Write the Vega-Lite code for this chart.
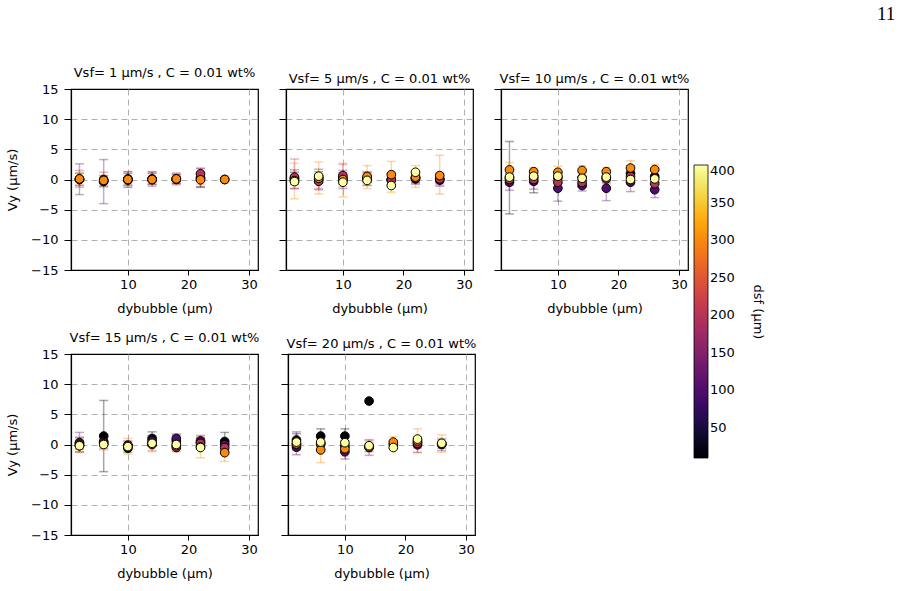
{
  "$schema": "https://vega.github.io/schema/vega-lite/v6.json",
  "background": "white",
  "padding": {"left": 5, "top": 5, "right": 130, "bottom": 5},
  "title": {"text": "11", "anchor": "start", "frame": "bounds", "font": "Liberation Serif", "fontSize": 19, "fontWeight": "normal", "color": "black", "dx": 871, "offset": 42},
  "datasets": {
    "pts": [
      {"p":1,"x":2,"d":10,"vy":0.0,"lo":-1.0,"hi":1.0},{"p":1,"x":2,"d":100,"vy":0.0,"lo":-2.5,"hi":2.6},{"p":1,"x":2,"d":200,"vy":0.1,"lo":-1.3,"hi":1.5},{"p":1,"x":2,"d":300,"vy":0.1,"lo":-0.9,"hi":1.2},
      {"p":1,"x":6,"d":10,"vy":-0.3,"lo":-1.2,"hi":0.6},{"p":1,"x":6,"d":100,"vy":-0.3,"lo":-4.0,"hi":3.3},{"p":1,"x":6,"d":200,"vy":0.0,"lo":-1.0,"hi":1.2},{"p":1,"x":6,"d":300,"vy":-0.15,"lo":-0.9,"hi":0.7},
      {"p":1,"x":10,"d":10,"vy":-0.1,"lo":-1.3,"hi":1.0},{"p":1,"x":10,"d":100,"vy":0.0,"lo":-1.0,"hi":1.3},{"p":1,"x":10,"d":200,"vy":0.1,"lo":-0.9,"hi":1.3},{"p":1,"x":10,"d":300,"vy":0.0,"lo":-0.7,"hi":0.7},
      {"p":1,"x":14,"d":10,"vy":0.1,"lo":-0.8,"hi":1.0},{"p":1,"x":14,"d":100,"vy":0.0,"lo":-1.1,"hi":1.3},{"p":1,"x":14,"d":200,"vy":0.0,"lo":-0.8,"hi":1.2},{"p":1,"x":14,"d":300,"vy":0.0,"lo":-0.6,"hi":0.6},
      {"p":1,"x":18,"d":10,"vy":0.0,"lo":-0.7,"hi":0.8},{"p":1,"x":18,"d":100,"vy":0.1,"lo":-0.6,"hi":0.9},{"p":1,"x":18,"d":200,"vy":0.1,"lo":-0.9,"hi":1.1},{"p":1,"x":18,"d":300,"vy":0.1,"lo":-0.5,"hi":0.6},
      {"p":1,"x":22,"d":10,"vy":0.1,"lo":-1.3,"hi":1.0},{"p":1,"x":22,"d":100,"vy":0.3,"lo":-1.2,"hi":1.8},{"p":1,"x":22,"d":200,"vy":0.95,"lo":0.0,"hi":1.9},{"p":1,"x":22,"d":300,"vy":-0.05,"lo":-0.8,"hi":0.7},
      {"p":1,"x":26,"d":10,"vy":0.0,"lo":-0.3,"hi":0.3},{"p":1,"x":26,"d":300,"vy":0.0,"lo":-0.6,"hi":0.6},

      {"p":2,"x":2,"d":10,"vy":0.2,"lo":-0.8,"hi":1.2},{"p":2,"x":2,"d":100,"vy":0.1,"lo":-1.5,"hi":1.6},{"p":2,"x":2,"d":200,"vy":0.4,"lo":-1.5,"hi":3.4},{"p":2,"x":2,"d":300,"vy":-0.2,"lo":-3.2,"hi":2.7},{"p":2,"x":2,"d":400,"vy":-0.35,"lo":-1.2,"hi":0.5},
      {"p":2,"x":6,"d":10,"vy":0.4,"lo":-0.6,"hi":1.3},{"p":2,"x":6,"d":100,"vy":0.0,"lo":-1.7,"hi":1.7},{"p":2,"x":6,"d":200,"vy":-0.3,"lo":-1.5,"hi":0.9},{"p":2,"x":6,"d":300,"vy":0.2,"lo":-2.4,"hi":2.9},{"p":2,"x":6,"d":400,"vy":0.55,"lo":-0.4,"hi":1.5},
      {"p":2,"x":10,"d":10,"vy":0.2,"lo":-0.7,"hi":1.1},{"p":2,"x":10,"d":100,"vy":0.0,"lo":-1.5,"hi":1.5},{"p":2,"x":10,"d":200,"vy":0.65,"lo":-1.2,"hi":2.5},{"p":2,"x":10,"d":300,"vy":0.0,"lo":-2.9,"hi":2.7},{"p":2,"x":10,"d":400,"vy":-0.45,"lo":-1.2,"hi":0.3},
      {"p":2,"x":14,"d":10,"vy":0.3,"lo":-0.5,"hi":1.0},{"p":2,"x":14,"d":100,"vy":0.0,"lo":-1.0,"hi":1.2},{"p":2,"x":14,"d":200,"vy":0.2,"lo":-0.9,"hi":1.3},{"p":2,"x":14,"d":300,"vy":0.5,"lo":-1.5,"hi":2.3},{"p":2,"x":14,"d":400,"vy":-0.15,"lo":-0.8,"hi":0.5},
      {"p":2,"x":18,"d":10,"vy":0.0,"lo":-0.8,"hi":0.8},{"p":2,"x":18,"d":100,"vy":-0.1,"lo":-1.0,"hi":0.9},{"p":2,"x":18,"d":200,"vy":-0.05,"lo":-1.0,"hi":1.0},{"p":2,"x":18,"d":300,"vy":0.8,"lo":-2.1,"hi":3.0},{"p":2,"x":18,"d":400,"vy":-1.0,"lo":-2.4,"hi":0.4},
      {"p":2,"x":22,"d":10,"vy":0.1,"lo":-0.5,"hi":0.7},{"p":2,"x":22,"d":100,"vy":0.2,"lo":-0.8,"hi":1.1},{"p":2,"x":22,"d":200,"vy":0.3,"lo":-0.6,"hi":1.2},{"p":2,"x":22,"d":300,"vy":0.4,"lo":-1.3,"hi":2.3},{"p":2,"x":22,"d":400,"vy":1.2,"lo":0.3,"hi":2.1},
      {"p":2,"x":26,"d":10,"vy":0.0,"lo":-0.6,"hi":0.6},{"p":2,"x":26,"d":100,"vy":-0.1,"lo":-1.1,"hi":0.9},{"p":2,"x":26,"d":200,"vy":0.1,"lo":-0.9,"hi":1.1},{"p":2,"x":26,"d":300,"vy":0.65,"lo":-2.4,"hi":4.0},

      {"p":3,"x":2,"d":10,"vy":0.3,"lo":-5.7,"hi":6.3},{"p":3,"x":2,"d":100,"vy":-0.45,"lo":-1.8,"hi":0.9},{"p":3,"x":2,"d":200,"vy":0.0,"lo":-1.0,"hi":1.0},{"p":3,"x":2,"d":300,"vy":1.6,"lo":0.4,"hi":2.8},{"p":3,"x":2,"d":400,"vy":0.4,"lo":-0.5,"hi":1.3},
      {"p":3,"x":6,"d":10,"vy":0.4,"lo":-2.2,"hi":1.2},{"p":3,"x":6,"d":100,"vy":-0.3,"lo":-1.6,"hi":1.0},{"p":3,"x":6,"d":200,"vy":0.0,"lo":-0.8,"hi":0.8},{"p":3,"x":6,"d":300,"vy":1.3,"lo":0.7,"hi":1.9},{"p":3,"x":6,"d":400,"vy":0.55,"lo":-0.3,"hi":1.4},
      {"p":3,"x":10,"d":10,"vy":0.3,"lo":-0.6,"hi":1.2},{"p":3,"x":10,"d":100,"vy":-1.45,"lo":-3.6,"hi":0.7},{"p":3,"x":10,"d":200,"vy":-0.45,"lo":-1.4,"hi":0.5},{"p":3,"x":10,"d":300,"vy":1.2,"lo":0.2,"hi":2.2},{"p":3,"x":10,"d":400,"vy":0.55,"lo":-0.4,"hi":1.5},
      {"p":3,"x":14,"d":10,"vy":0.3,"lo":-0.5,"hi":1.1},{"p":3,"x":14,"d":100,"vy":-1.0,"lo":-1.9,"hi":-0.1},{"p":3,"x":14,"d":200,"vy":-0.5,"lo":-1.3,"hi":0.3},{"p":3,"x":14,"d":300,"vy":1.5,"lo":0.7,"hi":2.3},{"p":3,"x":14,"d":400,"vy":0.2,"lo":-0.6,"hi":1.0},
      {"p":3,"x":18,"d":10,"vy":0.3,"lo":-0.5,"hi":1.1},{"p":3,"x":18,"d":100,"vy":-1.45,"lo":-3.5,"hi":0.6},{"p":3,"x":18,"d":200,"vy":0.1,"lo":-0.7,"hi":0.9},{"p":3,"x":18,"d":300,"vy":1.3,"lo":0.6,"hi":2.0},{"p":3,"x":18,"d":400,"vy":0.4,"lo":-0.4,"hi":1.2},
      {"p":3,"x":22,"d":10,"vy":1.0,"lo":-0.3,"hi":2.3},{"p":3,"x":22,"d":100,"vy":-0.45,"lo":-2.0,"hi":1.1},{"p":3,"x":22,"d":200,"vy":0.5,"lo":-0.5,"hi":1.5},{"p":3,"x":22,"d":300,"vy":1.9,"lo":0.7,"hi":3.1},{"p":3,"x":22,"d":400,"vy":0.0,"lo":-1.0,"hi":1.0},
      {"p":3,"x":26,"d":10,"vy":0.5,"lo":-0.5,"hi":1.5},{"p":3,"x":26,"d":100,"vy":-1.7,"lo":-3.0,"hi":-0.4},{"p":3,"x":26,"d":200,"vy":-0.7,"lo":-1.6,"hi":0.2},{"p":3,"x":26,"d":300,"vy":1.65,"lo":0.8,"hi":2.5},{"p":3,"x":26,"d":400,"vy":0.1,"lo":-0.8,"hi":1.0},

      {"p":4,"x":2,"d":10,"vy":0.2,"lo":-0.8,"hi":1.2},{"p":4,"x":2,"d":100,"vy":0.3,"lo":-1.2,"hi":2.0},{"p":4,"x":2,"d":200,"vy":-0.2,"lo":-1.3,"hi":0.9},{"p":4,"x":2,"d":300,"vy":-0.1,"lo":-1.3,"hi":1.1},{"p":4,"x":2,"d":400,"vy":-0.2,"lo":-0.9,"hi":0.5},
      {"p":4,"x":6,"d":10,"vy":1.4,"lo":-4.5,"hi":7.3},{"p":4,"x":6,"d":100,"vy":0.5,"lo":-0.6,"hi":1.6},{"p":4,"x":6,"d":200,"vy":0.3,"lo":-0.8,"hi":1.4},{"p":4,"x":6,"d":300,"vy":0.1,"lo":-0.9,"hi":1.1},{"p":4,"x":6,"d":400,"vy":0.0,"lo":-0.8,"hi":0.8},
      {"p":4,"x":10,"d":10,"vy":-0.6,"lo":-1.3,"hi":0.1},{"p":4,"x":10,"d":100,"vy":-0.2,"lo":-0.9,"hi":0.5},{"p":4,"x":10,"d":200,"vy":-0.1,"lo":-0.8,"hi":0.6},{"p":4,"x":10,"d":300,"vy":-0.3,"lo":-1.6,"hi":1.0},{"p":4,"x":10,"d":400,"vy":-0.35,"lo":-1.0,"hi":0.3},
      {"p":4,"x":14,"d":10,"vy":1.0,"lo":-0.1,"hi":2.1},{"p":4,"x":14,"d":100,"vy":0.6,"lo":-0.3,"hi":1.5},{"p":4,"x":14,"d":200,"vy":0.1,"lo":-1.0,"hi":1.2},{"p":4,"x":14,"d":300,"vy":0.0,"lo":-1.2,"hi":1.2},{"p":4,"x":14,"d":400,"vy":0.2,"lo":-0.5,"hi":0.9},
      {"p":4,"x":18,"d":10,"vy":0.6,"lo":-0.3,"hi":1.5},{"p":4,"x":18,"d":100,"vy":1.0,"lo":0.25,"hi":1.75},{"p":4,"x":18,"d":200,"vy":-0.5,"lo":-1.2,"hi":0.2},{"p":4,"x":18,"d":300,"vy":-0.2,"lo":-1.0,"hi":0.6},{"p":4,"x":18,"d":400,"vy":0.0,"lo":-0.7,"hi":0.7},
      {"p":4,"x":22,"d":10,"vy":0.3,"lo":-0.5,"hi":1.1},{"p":4,"x":22,"d":100,"vy":0.6,"lo":-0.3,"hi":1.5},{"p":4,"x":22,"d":200,"vy":0.2,"lo":-0.6,"hi":1.0},{"p":4,"x":22,"d":300,"vy":-0.4,"lo":-2.2,"hi":1.3},{"p":4,"x":22,"d":400,"vy":-0.5,"lo":-1.3,"hi":0.3},
      {"p":4,"x":26,"d":10,"vy":0.5,"lo":-1.0,"hi":2.0},{"p":4,"x":26,"d":100,"vy":0.0,"lo":-0.8,"hi":0.8},{"p":4,"x":26,"d":200,"vy":-0.5,"lo":-1.3,"hi":0.3},{"p":4,"x":26,"d":300,"vy":-1.35,"lo":-2.8,"hi":0.1},

      {"p":5,"x":2,"d":10,"vy":0.75,"lo":-0.3,"hi":1.8},{"p":5,"x":2,"d":100,"vy":-0.45,"lo":-1.7,"hi":2.1},{"p":5,"x":2,"d":200,"vy":0.0,"lo":-0.9,"hi":0.9},{"p":5,"x":2,"d":300,"vy":0.1,"lo":-0.8,"hi":1.0},{"p":5,"x":2,"d":400,"vy":0.4,"lo":-0.5,"hi":1.3},
      {"p":5,"x":6,"d":10,"vy":1.4,"lo":0.2,"hi":2.6},{"p":5,"x":6,"d":100,"vy":0.2,"lo":-0.8,"hi":1.2},{"p":5,"x":6,"d":200,"vy":0.0,"lo":-1.0,"hi":1.0},{"p":5,"x":6,"d":300,"vy":-0.9,"lo":-3.0,"hi":1.2},{"p":5,"x":6,"d":400,"vy":0.4,"lo":-0.5,"hi":1.3},
      {"p":5,"x":10,"d":10,"vy":1.4,"lo":0.2,"hi":2.6},{"p":5,"x":10,"d":100,"vy":-1.2,"lo":-2.4,"hi":0.0},{"p":5,"x":10,"d":200,"vy":-0.3,"lo":-1.2,"hi":0.6},{"p":5,"x":10,"d":300,"vy":-0.7,"lo":-1.9,"hi":0.5},{"p":5,"x":10,"d":400,"vy":0.3,"lo":-0.6,"hi":1.2},
      {"p":5,"x":14,"d":10,"vy":7.2,"lo":null,"hi":null},{"p":5,"x":14,"d":100,"vy":-0.5,"lo":-1.8,"hi":0.8},{"p":5,"x":14,"d":200,"vy":-0.3,"lo":-1.2,"hi":0.6},{"p":5,"x":14,"d":300,"vy":-0.4,"lo":-1.1,"hi":0.3},{"p":5,"x":14,"d":400,"vy":-0.2,"lo":-0.9,"hi":0.5},
      {"p":5,"x":18,"d":100,"vy":0.0,"lo":-0.6,"hi":0.6},{"p":5,"x":18,"d":300,"vy":0.4,"lo":-0.5,"hi":1.3},{"p":5,"x":18,"d":400,"vy":-0.5,"lo":-1.7,"hi":0.7},
      {"p":5,"x":22,"d":10,"vy":0.4,"lo":-0.3,"hi":1.1},{"p":5,"x":22,"d":100,"vy":-0.05,"lo":-1.3,"hi":1.2},{"p":5,"x":22,"d":200,"vy":0.2,"lo":-0.6,"hi":1.0},{"p":5,"x":22,"d":300,"vy":0.6,"lo":-1.4,"hi":2.6},{"p":5,"x":22,"d":400,"vy":0.9,"lo":0.1,"hi":1.7},
      {"p":5,"x":26,"d":10,"vy":0.1,"lo":-0.6,"hi":0.8},{"p":5,"x":26,"d":100,"vy":0.0,"lo":-1.0,"hi":1.0},{"p":5,"x":26,"d":300,"vy":0.1,"lo":-1.3,"hi":1.6},{"p":5,"x":26,"d":400,"vy":0.2,"lo":-0.5,"hi":0.9}
    ]
  },
  "vconcat": [
    {
      "spacing": 18,
      "hconcat": [
        {
          "width": 187, "height": 181,
          "title": "Vsf= 1 µm/s , C = 0.01 wt%",
          "data": {"name": "pts"},
          "transform": [{"filter": "datum.p == 1"}],
          "encoding": {
            "x": {"field": "x", "type": "quantitative", "scale": {"domain": [0.6, 31.5], "nice": false, "zero": false}, "axis": {"values": [10, 20, 30], "title": "dybubble (µm)"}},
            "order": {"field": "d", "type": "quantitative"}
          },
          "layer": [
            {"mark": {"type": "rule", "opacity": 0.35, "strokeWidth": 1.5}, "encoding": {"y": {"field": "lo", "type": "quantitative", "scale": {"domain": [-15, 15], "nice": false}, "axis": {"values": [-15, -10, -5, 0, 5, 10, 15], "tickCount": 10, "title": "Vy (µm/s)"}}, "y2": {"field": "hi"}, "stroke": {"field": "d", "type": "quantitative", "scale": {"scheme": "inferno", "domain": [9.999, 400.001]}, "legend": null}}},
            {"mark": {"type": "tick", "orient": "horizontal", "size": 9, "thickness": 1.5, "opacity": 0.35}, "encoding": {"y": {"field": "lo", "type": "quantitative"}, "fill": {"field": "d", "type": "quantitative", "scale": {"scheme": "inferno", "domain": [9.998, 400.002]}, "legend": null}}},
            {"mark": {"type": "tick", "orient": "horizontal", "size": 9, "thickness": 1.5, "opacity": 0.35}, "encoding": {"y": {"field": "hi", "type": "quantitative"}, "fill": {"field": "d", "type": "quantitative", "scale": {"scheme": "inferno", "domain": [9.998, 400.002]}, "legend": null}}},
            {"mark": {"type": "point", "shape": "circle", "filled": true, "size": 75, "stroke": "black", "strokeWidth": 1, "opacity": 1}, "encoding": {"y": {"field": "vy", "type": "quantitative"}, "color": {"field": "d", "type": "quantitative", "scale": {"scheme": "inferno", "domain": [10, 400]}, "title": "dsf (µm)", "legend": {"type": "gradient", "titleAngle": -90, "tickCount": 10}}}}
          ]
        },
        {
          "width": 187, "height": 181,
          "title": "Vsf= 5 µm/s , C = 0.01 wt%",
          "data": {"name": "pts"},
          "transform": [{"filter": "datum.p == 2"}],
          "encoding": {
            "x": {"field": "x", "type": "quantitative", "scale": {"domain": [0.6, 31.5], "nice": false, "zero": false}, "axis": {"values": [10, 20, 30], "title": "dybubble (µm)"}},
            "order": {"field": "d", "type": "quantitative"}
          },
          "layer": [
            {"mark": {"type": "rule", "opacity": 0.35, "strokeWidth": 1.5}, "encoding": {"y": {"field": "lo", "type": "quantitative", "scale": {"domain": [-15, 15], "nice": false}, "axis": {"values": [-15, -10, -5, 0, 5, 10, 15], "tickCount": 10, "labels": false, "title": null}}, "y2": {"field": "hi"}, "stroke": {"field": "d", "type": "quantitative", "scale": {"scheme": "inferno", "domain": [9.999, 400.001]}, "legend": null}}},
            {"mark": {"type": "tick", "orient": "horizontal", "size": 9, "thickness": 1.5, "opacity": 0.35}, "encoding": {"y": {"field": "lo", "type": "quantitative"}, "fill": {"field": "d", "type": "quantitative", "scale": {"scheme": "inferno", "domain": [9.998, 400.002]}, "legend": null}}},
            {"mark": {"type": "tick", "orient": "horizontal", "size": 9, "thickness": 1.5, "opacity": 0.35}, "encoding": {"y": {"field": "hi", "type": "quantitative"}, "fill": {"field": "d", "type": "quantitative", "scale": {"scheme": "inferno", "domain": [9.998, 400.002]}, "legend": null}}},
            {"mark": {"type": "point", "shape": "circle", "filled": true, "size": 75, "stroke": "black", "strokeWidth": 1, "opacity": 1}, "encoding": {"y": {"field": "vy", "type": "quantitative"}, "color": {"field": "d", "type": "quantitative", "scale": {"scheme": "inferno", "domain": [10, 400]}, "title": "dsf (µm)", "legend": {"type": "gradient", "titleAngle": -90, "tickCount": 10}}}}
          ]
        },
        {
          "width": 187, "height": 181,
          "title": "Vsf= 10 µm/s , C = 0.01 wt%",
          "data": {"name": "pts"},
          "transform": [{"filter": "datum.p == 3"}],
          "encoding": {
            "x": {"field": "x", "type": "quantitative", "scale": {"domain": [0.6, 31.5], "nice": false, "zero": false}, "axis": {"values": [10, 20, 30], "title": "dybubble (µm)"}},
            "order": {"field": "d", "type": "quantitative"}
          },
          "layer": [
            {"mark": {"type": "rule", "opacity": 0.35, "strokeWidth": 1.5}, "encoding": {"y": {"field": "lo", "type": "quantitative", "scale": {"domain": [-15, 15], "nice": false}, "axis": {"values": [-15, -10, -5, 0, 5, 10, 15], "tickCount": 10, "labels": false, "title": null}}, "y2": {"field": "hi"}, "stroke": {"field": "d", "type": "quantitative", "scale": {"scheme": "inferno", "domain": [9.999, 400.001]}, "legend": null}}},
            {"mark": {"type": "tick", "orient": "horizontal", "size": 9, "thickness": 1.5, "opacity": 0.35}, "encoding": {"y": {"field": "lo", "type": "quantitative"}, "fill": {"field": "d", "type": "quantitative", "scale": {"scheme": "inferno", "domain": [9.998, 400.002]}, "legend": null}}},
            {"mark": {"type": "tick", "orient": "horizontal", "size": 9, "thickness": 1.5, "opacity": 0.35}, "encoding": {"y": {"field": "hi", "type": "quantitative"}, "fill": {"field": "d", "type": "quantitative", "scale": {"scheme": "inferno", "domain": [9.998, 400.002]}, "legend": null}}},
            {"mark": {"type": "point", "shape": "circle", "filled": true, "size": 75, "stroke": "black", "strokeWidth": 1, "opacity": 1}, "encoding": {"y": {"field": "vy", "type": "quantitative"}, "color": {"field": "d", "type": "quantitative", "scale": {"scheme": "inferno", "domain": [10, 400]}, "title": "dsf (µm)", "legend": {"type": "gradient", "titleAngle": -90, "tickCount": 10}}}}
          ]
        }
      ]
    },
    {
      "spacing": 18,
      "hconcat": [
        {
          "width": 187, "height": 181,
          "title": "Vsf= 15 µm/s , C = 0.01 wt%",
          "data": {"name": "pts"},
          "transform": [{"filter": "datum.p == 4"}],
          "encoding": {
            "x": {"field": "x", "type": "quantitative", "scale": {"domain": [0.6, 31.5], "nice": false, "zero": false}, "axis": {"values": [10, 20, 30], "title": "dybubble (µm)"}},
            "order": {"field": "d", "type": "quantitative"}
          },
          "layer": [
            {"mark": {"type": "rule", "opacity": 0.35, "strokeWidth": 1.5}, "encoding": {"y": {"field": "lo", "type": "quantitative", "scale": {"domain": [-15, 15], "nice": false}, "axis": {"values": [-15, -10, -5, 0, 5, 10, 15], "tickCount": 10, "title": "Vy (µm/s)"}}, "y2": {"field": "hi"}, "stroke": {"field": "d", "type": "quantitative", "scale": {"scheme": "inferno", "domain": [9.999, 400.001]}, "legend": null}}},
            {"mark": {"type": "tick", "orient": "horizontal", "size": 9, "thickness": 1.5, "opacity": 0.35}, "encoding": {"y": {"field": "lo", "type": "quantitative"}, "fill": {"field": "d", "type": "quantitative", "scale": {"scheme": "inferno", "domain": [9.998, 400.002]}, "legend": null}}},
            {"mark": {"type": "tick", "orient": "horizontal", "size": 9, "thickness": 1.5, "opacity": 0.35}, "encoding": {"y": {"field": "hi", "type": "quantitative"}, "fill": {"field": "d", "type": "quantitative", "scale": {"scheme": "inferno", "domain": [9.998, 400.002]}, "legend": null}}},
            {"mark": {"type": "point", "shape": "circle", "filled": true, "size": 75, "stroke": "black", "strokeWidth": 1, "opacity": 1}, "encoding": {"y": {"field": "vy", "type": "quantitative"}, "color": {"field": "d", "type": "quantitative", "scale": {"scheme": "inferno", "domain": [10, 400]}, "title": "dsf (µm)", "legend": {"type": "gradient", "titleAngle": -90, "tickCount": 10}}}}
          ]
        },
        {
          "width": 187, "height": 181,
          "title": "Vsf= 20 µm/s , C = 0.01 wt%",
          "data": {"name": "pts"},
          "transform": [{"filter": "datum.p == 5"}],
          "encoding": {
            "x": {"field": "x", "type": "quantitative", "scale": {"domain": [0.6, 31.5], "nice": false, "zero": false}, "axis": {"values": [10, 20, 30], "title": "dybubble (µm)"}},
            "order": {"field": "d", "type": "quantitative"}
          },
          "layer": [
            {"mark": {"type": "rule", "opacity": 0.35, "strokeWidth": 1.5}, "encoding": {"y": {"field": "lo", "type": "quantitative", "scale": {"domain": [-15, 15], "nice": false}, "axis": {"values": [-15, -10, -5, 0, 5, 10, 15], "tickCount": 10, "labels": false, "title": null}}, "y2": {"field": "hi"}, "stroke": {"field": "d", "type": "quantitative", "scale": {"scheme": "inferno", "domain": [9.999, 400.001]}, "legend": null}}},
            {"mark": {"type": "tick", "orient": "horizontal", "size": 9, "thickness": 1.5, "opacity": 0.35}, "encoding": {"y": {"field": "lo", "type": "quantitative"}, "fill": {"field": "d", "type": "quantitative", "scale": {"scheme": "inferno", "domain": [9.998, 400.002]}, "legend": null}}},
            {"mark": {"type": "tick", "orient": "horizontal", "size": 9, "thickness": 1.5, "opacity": 0.35}, "encoding": {"y": {"field": "hi", "type": "quantitative"}, "fill": {"field": "d", "type": "quantitative", "scale": {"scheme": "inferno", "domain": [9.998, 400.002]}, "legend": null}}},
            {"mark": {"type": "point", "shape": "circle", "filled": true, "size": 75, "stroke": "black", "strokeWidth": 1, "opacity": 1}, "encoding": {"y": {"field": "vy", "type": "quantitative"}, "color": {"field": "d", "type": "quantitative", "scale": {"scheme": "inferno", "domain": [10, 400]}, "title": "dsf (µm)", "legend": {"type": "gradient", "titleAngle": -90, "tickCount": 10}}}}
          ]
        }
      ]
    }
  ],
  "spacing": 15,
  "resolve": {"scale": {"color": "shared", "stroke": "shared", "fill": "shared"}},
  "config": {
    "font": "DejaVu Sans",
    "view": {"stroke": "black", "strokeWidth": 1.2},
    "axis": {"domainColor": "black", "domainWidth": 1.2, "tickColor": "black", "tickSize": 7, "labelPadding": 6, "titlePadding": 6, "labelColor": "black", "titleColor": "black", "labelFontSize": 13, "titleFontSize": 13, "titleFontWeight": "normal", "labelFont": "DejaVu Sans", "titleFont": "DejaVu Sans", "grid": true, "gridDash": [6, 4], "gridColor": "#b0b0b0", "gridWidth": 1, "gridOpacity": {"condition": {"test": "abs(datum.value) >= 15 && datum.value != 30", "value": 0}, "value": 1}},
    "axisY": {"titlePadding": 11},
    "axisX": {"tickSize": 5, "labelPadding": 3, "titlePadding": 11},
    "title": {"fontSize": 13, "fontWeight": "normal", "font": "DejaVu Sans", "color": "black", "offset": 3},
    "legend": {"orient": "none", "direction": "vertical", "legendX": 623, "legendY": 76, "gradientLength": 293, "gradientThickness": 14, "gradientStrokeColor": "black", "gradientStrokeWidth": 0.8, "labelFontSize": 13, "labelColor": "black", "labelFont": "DejaVu Sans", "labelOffset": 11, "titleFontSize": 13, "titleFontWeight": "normal", "titleColor": "black", "titleOrient": "right", "titleAnchor": "middle", "titlePadding": 16, "values": [50, 100, 150, 200, 250, 300, 350, 400]}
  }
}
